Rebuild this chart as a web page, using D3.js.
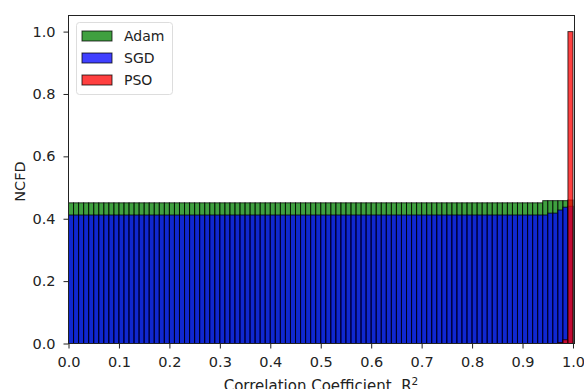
<!DOCTYPE html>
<html lang="en">
<head>
  <meta charset="UTF-8">
  <title>NCFD</title>
  <script src="https://d3js.org/d3.v7.min.js"></script>
  <style>
    body { margin: 0; background: white; font-family: "DejaVu Sans", sans-serif; }
    .tick text { font-size: 14.5px; fill: #222; font-family: "DejaVu Sans", sans-serif; }
    .bar { stroke: black; stroke-width: 1px; }
  </style>
</head>
<body>
<svg id="svg" width="584" height="389"></svg>
<script>
// one value per bin, bins of width 0.01 from 0 to 1
const binWidth = 0.01;
const adam = [
  0.451,0.451,0.451,0.451,0.451,0.451,0.451,0.451,0.451,0.451,
  0.451,0.451,0.451,0.451,0.451,0.451,0.451,0.451,0.451,0.451,
  0.451,0.451,0.451,0.451,0.451,0.451,0.451,0.451,0.451,0.451,
  0.451,0.451,0.451,0.451,0.451,0.451,0.451,0.451,0.451,0.451,
  0.451,0.451,0.451,0.451,0.451,0.451,0.451,0.451,0.451,0.451,
  0.451,0.451,0.451,0.451,0.451,0.451,0.451,0.451,0.451,0.451,
  0.451,0.451,0.451,0.451,0.451,0.451,0.451,0.451,0.451,0.451,
  0.451,0.451,0.451,0.451,0.451,0.451,0.451,0.451,0.451,0.451,
  0.451,0.451,0.451,0.451,0.451,0.451,0.451,0.451,0.451,0.451,
  0.451,0.451,0.451,0.451,0.458,0.458,0.458,0.458,0.458,0.46
];
const sgd = [
  0.412,0.412,0.412,0.412,0.412,0.412,0.412,0.412,0.412,0.412,
  0.412,0.412,0.412,0.412,0.412,0.412,0.412,0.412,0.412,0.412,
  0.412,0.412,0.412,0.412,0.412,0.412,0.412,0.412,0.412,0.412,
  0.412,0.412,0.412,0.412,0.412,0.412,0.412,0.412,0.412,0.412,
  0.412,0.412,0.412,0.412,0.412,0.412,0.412,0.412,0.412,0.412,
  0.412,0.412,0.412,0.412,0.412,0.412,0.412,0.412,0.412,0.412,
  0.412,0.412,0.412,0.412,0.412,0.412,0.412,0.412,0.412,0.412,
  0.412,0.412,0.412,0.412,0.412,0.412,0.412,0.412,0.412,0.412,
  0.412,0.412,0.412,0.412,0.412,0.412,0.412,0.412,0.412,0.412,
  0.412,0.412,0.412,0.412,0.412,0.418,0.418,0.428,0.437,0.44
];
const pso = [
  0,0,0,0,0,0,0,0,0,0,
  0,0,0,0,0,0,0,0,0,0,
  0,0,0,0,0,0,0,0,0,0,
  0,0,0,0,0,0,0,0,0,0,
  0,0,0,0,0,0,0,0,0,0,
  0,0,0,0,0,0,0,0,0,0,
  0,0,0,0,0,0,0,0,0,0,
  0,0,0,0,0,0,0,0,0,0,
  0,0,0,0,0,0,0,0,0,0,
  0,0,0,0,0,0,0,0.003,0.012,1.0
];
const seriesNames = ["Adam", "SGD", "PSO"];
const seriesColors = ["green", "blue", "red"];
const xTicks = [0,0.1,0.2,0.3,0.4,0.5,0.6,0.7,0.8,0.9,1.0];
const yTicks = [0,0.2,0.4,0.6,0.8,1.0];

const svg = d3.select("#svg");
const x = d3.scaleLinear().domain([0, 1.003]).range([68.5, 574.5]);
const y = d3.scaleLinear().domain([0, 1.05]).range([343.5, 16]);

const plot = svg.append("g");
[adam, sgd, pso].forEach(function(vals, k) {
  plot.append("g").selectAll("rect")
    .data(vals.map((v, i) => ({x0: i*binWidth, v: v})).filter(d => d.v > 0))
    .join("rect")
    .attr("class", "bar")
    .attr("x", d => x(d.x0))
    .attr("width", d => x(d.x0 + binWidth) - x(d.x0))
    .attr("y", d => y(d.v))
    .attr("height", d => y(0) - y(d.v))
    .attr("fill", seriesColors[k])
    .attr("fill-opacity", 0.75)
    .attr("stroke-opacity", 0.75);
});

// axes
const xAxis = svg.append("g").attr("transform", "translate(0,343.5)")
  .call(d3.axisBottom(x).tickValues(xTicks).tickFormat(d3.format(".1f")).tickSizeOuter(0).tickSize(5).tickPadding(8));
const yAxis = svg.append("g").attr("transform", "translate(68.5,0)")
  .call(d3.axisLeft(y).tickValues(yTicks).tickFormat(d3.format(".1f")).tickSizeOuter(0).tickSize(5).tickPadding(8));
xAxis.select(".domain").remove();
yAxis.select(".domain").remove();
svg.selectAll(".tick line").attr("stroke", "#222");

// frame
svg.append("rect")
  .attr("x", 68.5).attr("y", 15.5)
  .attr("width", 574.5 - 68.5).attr("height", 343.5 - 15.5)
  .attr("fill", "none").attr("stroke", "#222").attr("stroke-width", 1);

// labels
const xl = svg.append("text")
  .attr("x", 321).attr("y", 391)
  .attr("text-anchor", "middle")
  .attr("font-size", "15px").attr("fill", "#222");
xl.append("tspan").text("Correlation Coefficient, R");
xl.append("tspan").attr("dy", -6).attr("font-size", "10.5px").text("2");

svg.append("text")
  .attr("transform", "translate(25,181.5) rotate(-90)")
  .attr("text-anchor", "middle")
  .attr("font-size", "14.5px").attr("fill", "#222")
  .text("NCFD");

// legend
const legend = svg.append("g");
legend.append("rect")
  .attr("x", 76.5).attr("y", 22.5).attr("width", 96).attr("height", 72).attr("rx", 3)
  .attr("fill", "white").attr("fill-opacity", 0.8).attr("stroke", "#ddd");
seriesNames.forEach(function(name, i) {
  legend.append("rect")
    .attr("x", 82).attr("y", 31 + i*22).attr("width", 30).attr("height", 10)
    .attr("fill", seriesColors[i]).attr("fill-opacity", 0.75)
    .attr("stroke", "black").attr("stroke-opacity", 0.75);
  legend.append("text")
    .attr("x", 124).attr("y", 41 + i*22)
    .attr("font-size", "14px").attr("fill", "#222")
    .text(name);
});
</script>
</body>
</html>
